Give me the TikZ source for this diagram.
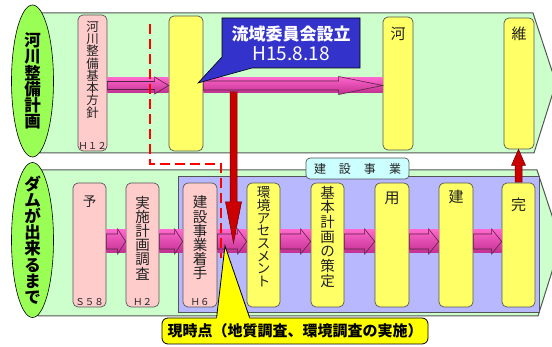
\documentclass[tikz,border=0pt]{standalone}
\usepackage{fontspec}
\newfontfamily\jp{Noto Sans CJK JP}
\usetikzlibrary{calc,shapes.geometric}
\definecolor{cBand}{HTML}{CCFFCC}
\definecolor{cEll}{HTML}{99FF55}
\definecolor{cPink}{HTML}{FFCCCC}
\definecolor{cYel}{HTML}{FFFF66}
\definecolor{cLav}{HTML}{B8B8FF}
\definecolor{cCyan}{HTML}{CCFFFF}
\definecolor{cArrA}{HTML}{FF66CC}
\definecolor{cArrB}{HTML}{C03090}
\definecolor{cArrLine}{HTML}{552244}
\definecolor{cRed}{HTML}{CC0000}
\definecolor{cRedLine}{HTML}{660000}
\definecolor{cBlue}{HTML}{3333CC}
\definecolor{cCall}{HTML}{FFFF00}
\definecolor{cLine}{HTML}{555555}
\definecolor{cText}{HTML}{222222}
\definecolor{cDash}{HTML}{FF0000}
\newcommand\flowarrow[7]{%
  \coordinate (fa1) at (#1.east |- #3);
  \coordinate (fa2) at (#2.west |- #3);
  \shade[top color=cArrA, bottom color=cArrB] ($(fa1)+(0,-#4)$) rectangle ($(fa2)+(0,#4)$);
  \shadedraw[top color=cArrA, bottom color=cArrB, draw=cArrLine, line width=0.6pt]
    ($(fa1)+(0,-#5)$) -- ($(fa2)+(-#7,-#5)$) -- ($(fa2)+(-#7,-#6)$) -- (fa2)
    -- ($(fa2)+(-#7,#6)$) -- ($(fa2)+(-#7,#5)$) -- ($(fa1)+(0,#5)$) -- cycle;
}
\begin{document}
\begin{tikzpicture}[x=1pt,y=-1pt,font=\jp,
  box/.style={draw=cLine, rounded corners=5pt, line width=0.7pt, inner sep=0pt},
  pinkbox/.style={box, fill=cPink},
  yelbox/.style={box, fill=cYel},
  vtext/.style={inner sep=0pt, align=center, text=cText, anchor=north},
  yrlabel/.style={inner sep=0pt, text=cText, anchor=south, font=\jp\fontsize{9.5}{10}\selectfont},
  elltext/.style={inner sep=0pt, align=center, text=black, font=\jp\bfseries\fontsize{16.5}{16.2}\selectfont},
  ell/.style={ellipse, draw=black, fill=cEll, line width=0.6pt, inner sep=0pt, minimum width=42pt}
]
\useasboundingbox (0,0) rectangle (552,347);
\clip (0,0) rectangle (552,347);
% bands
\filldraw[fill=cBand, draw=cLine, line width=1pt] (40,13) -- (533,13) -- (556,83) -- (534,153) -- (40,153) -- cycle;
\filldraw[fill=cBand, draw=cLine, line width=1pt] (38,170) -- (537,170) -- (561,243) -- (538,316) -- (38,316) -- cycle;
\filldraw[fill=cLav, draw=cLine, line width=0.8pt] (178,176) rectangle (539,312);
% ellipses
\node[ell, minimum height=152pt] (e1) at (32.5,81) {};
\node[elltext] (e1t) at (e1) {河\\川\\整\\備\\計\\画};
\node[ell, minimum height=155pt] (e2) at (32.5,240) {};
\node[elltext] (e2t) at (e2) {ダ\\ム\\が\\出\\来\\る\\ま\\で};
% top boxes
\node[pinkbox, minimum width=29pt, minimum height=136pt] (hoshin) at (92.5,83) {};
\node[yelbox, minimum width=34pt, minimum height=135pt] (y1) at (186,83.5) {};
\node[yelbox, minimum width=30pt, minimum height=133pt] (kawa) at (398,83.5) {};
\node[yelbox, minimum width=30pt, minimum height=131pt] (iji) at (519,83.5) {};
\node[vtext, font=\jp\fontsize{12.5}{12.3}\selectfont] (t1) at ($(hoshin.north)+(0,6)$) {河\\川\\整\\備\\基\\本\\方\\針};
\node[yrlabel] (l1) at ($(hoshin.south)+(0,-2)$) {Ｈ１２};
\node[vtext, font=\jp\fontsize{15}{15}\selectfont] (t2) at ($(kawa.north)+(0,10)$) {河};
\node[vtext, font=\jp\fontsize{15}{15}\selectfont] (t3) at ($(iji.north)+(0,9)$) {維};
% bottom boxes
\foreach \n/\x/\w/\c in {yo/89.5/33/pinkbox, jissi/142.5/33/pinkbox, kens/200/34/pinkbox,
  kank/263.5/33/yelbox, kihon/327.5/33/yelbox, you/392/34/yelbox, ken/456/34/yelbox, kan/518.5/33/yelbox}
  \node[\c, minimum width=\w pt, minimum height=124pt] (\n) at (\x,245) {};
\node[vtext, font=\jp\fontsize{13.5}{13.5}\selectfont] (t4) at ($(yo.north)+(0,13)$) {予};
\node[vtext, font=\jp\fontsize{14.5}{14.2}\selectfont] (t5) at ($(jissi.north)+(0,13)$) {実\\施\\計\\画\\調\\査};
\node[vtext, font=\jp\fontsize{14.5}{14.2}\selectfont] (t6) at ($(kens.north)+(0,13)$) {建\\設\\事\\業\\着\\手};
\node[vtext, font=\jp\fontsize{13.5}{12.7}\selectfont] (t7) at ($(kank.north)+(0,4)$) {環\\境\\ア\\セ\\ス\\メ\\ン\\ト};
\node[vtext, font=\jp\fontsize{14.5}{14.7}\selectfont] (t8) at ($(kihon.north)+(0,3)$) {基\\本\\計\\画\\の\\策\\定};
\node[vtext, font=\jp\fontsize{15}{15}\selectfont] (t9) at ($(you.north)+(0,9)$) {用};
\node[vtext, font=\jp\fontsize{15}{15}\selectfont] (t10) at ($(ken.north)+(0,7)$) {建};
\node[vtext, font=\jp\fontsize{15}{15}\selectfont] (t11) at ($(kan.north)+(0,15)$) {完};
\node[yrlabel] (l2) at ($(yo.south)+(0,-2)$) {Ｓ５８};
\node[yrlabel] (l3) at ($(jissi.south)+(0,-2)$) {Ｈ２};
\node[yrlabel] (l4) at ($(kens.south)+(0,-2)$) {Ｈ６};
% label
\node[draw=cLine, fill=cCyan, rounded corners=4pt, line width=0.7pt, minimum width=103pt, minimum height=21pt,
  inner sep=0pt, text=cText, font=\jp\fontsize{12}{12}\selectfont] (kl) at (357.5,168.5)
  {建\hspace{13pt}設\hspace{13pt}事\hspace{13pt}業};
% flow arrows
\coordinate (toprow) at (0,85.5);
\coordinate (botrow) at (0,241.5);
\flowarrow{hoshin}{y1}{toprow}{7.5}{4}{8.5}{14}
\flowarrow{y1}{kawa}{toprow}{7.5}{4.5}{9}{44}
\flowarrow{yo}{jissi}{botrow}{11.5}{7.5}{12.5}{8}
\flowarrow{jissi}{kens}{botrow}{11.5}{7.5}{12.5}{8}
\flowarrow{kens}{kank}{botrow}{11.5}{7.5}{12.5}{9}
\flowarrow{kank}{kihon}{botrow}{11.5}{7.5}{12.5}{10}
\flowarrow{kihon}{you}{botrow}{11.5}{7.5}{12.5}{10}
\flowarrow{you}{ken}{botrow}{11.5}{7.5}{12.5}{10}
\flowarrow{ken}{kan}{botrow}{11.5}{7.5}{12.5}{10}
% dashed
\draw[cDash, line width=2.5pt, dash pattern=on 10pt off 5pt] (150,24) -- (150,164) -- (221,164) -- (221,258);
% red down arrow
\coordinate (rs) at (233.5,92);
\coordinate (re) at (233.5,243);
\filldraw[fill=cRed, draw=cRedLine, line width=0.5pt] ($(rs)+(-3.5,0)$) -- ($(re)+(-3.5,-41)$) -- ($(re)+(-8,-41)$) -- (re)
  -- ($(re)+(8,-41)$) -- ($(re)+(3.5,-41)$) -- ($(rs)+(3.5,0)$) -- cycle;
% red up arrow
\coordinate (us) at ($(kan.north)+(0,-0.5)$);
\coordinate (ue) at (kan.north |- iji.south);
\filldraw[fill=cRed, draw=cRedLine, line width=0.5pt] ($(us)+(-3.5,0)$) -- ($(ue)+(-3.5,16)$) -- ($(ue)+(-7,16)$) -- (ue)
  -- ($(ue)+(7,16)$) -- ($(ue)+(3.5,16)$) -- ($(us)+(3.5,0)$) -- cycle;
% blue callout
\coordinate (ryutip) at (198,83);
\filldraw[fill=cBlue, draw=black, line width=0.6pt] (222,18) -- (360,18) -- (360,68) -- (252,68) -- (ryutip) -- (222,57) -- cycle;
\node[inner sep=0pt, align=center, text=white, font=\jp\fontsize{17}{20}\selectfont] (ryu) at (291,43)
  {{\bfseries 流域委員会設立}\\{\fontsize{19}{20}\selectfont H15.8.18}};
% yellow callout
\node[draw=black, fill=cCall, rounded corners=6pt, line width=0.8pt, minimum width=266pt, minimum height=26pt, inner sep=0pt,
  font=\jp\bfseries\fontsize{15}{15}\selectfont] (now) at (295,331) {現時点（地質調査、環境調査の実施）};
\coordinate (nowtip) at (225,246);
\fill[cCall] ($(now.north west)+(55,1.5)$) -- (nowtip) -- ($(now.north west)+(88,1.5)$) -- cycle;
\draw[black, line width=0.8pt] ($(now.north west)+(55,0)$) -- (nowtip) -- ($(now.north west)+(88,0)$);
\end{tikzpicture}
\end{document}
